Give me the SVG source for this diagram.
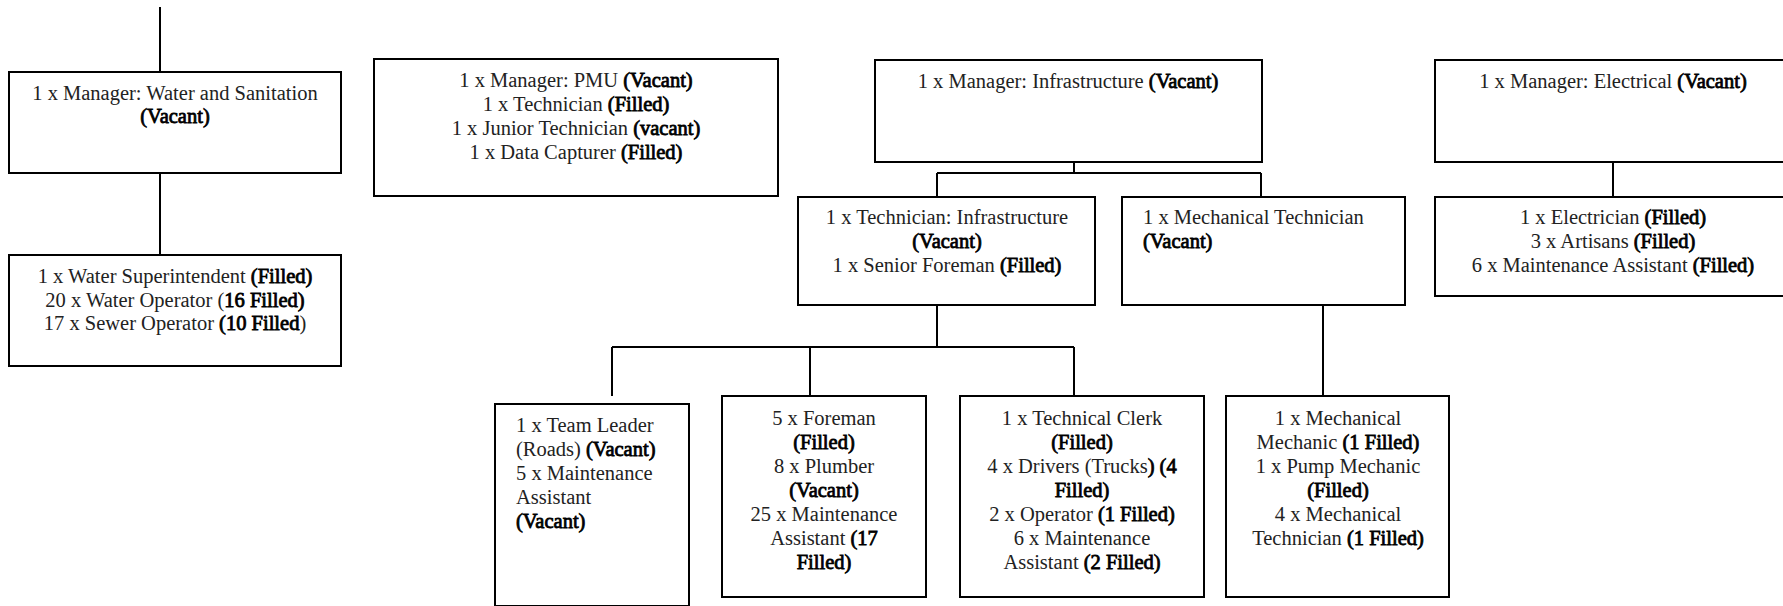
<svg xmlns="http://www.w3.org/2000/svg" width="1783" height="606" viewBox="0 0 1783 606">
  <style>
    .box { fill: #ffffff; stroke: #000000; stroke-width: 2; }
    .wire { fill: none; stroke: #000000; stroke-width: 2; }
    text { font-family: "Liberation Serif", "Times New Roman", serif; font-size: 20.5px; fill: #222222; }
    .c { text-anchor: middle; }
    /* heavier status labels */
    .b { fill: #000000; stroke: #000000; stroke-width: 0.8px; paint-order: stroke; }
  </style>
  <rect width="1783" height="606" fill="#ffffff"/>

  <!-- connectors -->
  <g id="connectors">
    <path class="wire" d="M160 7 V72"/>
    <path class="wire" d="M160 173 V255"/>
    <path class="wire" d="M1074 162 V173 M937 173 H1261 M937 173 V197 M1261 173 V197"/>
    <path class="wire" d="M1613 162 V197"/>
    <path class="wire" d="M937 305 V347 M612 347 H1074 M612 347 V396 M810 347 V396 M1074 347 V396"/>
    <path class="wire" d="M1323 305 V396"/>
  </g>

  <!-- Water and Sanitation -->
  <g id="ws-manager">
    <rect class="box" x="9" y="72" width="332" height="101"/>
    <text class="c" x="175" y="100">1 x Manager: Water and Sanitation</text>
    <text class="c b" x="175" y="123">(Vacant)</text>
  </g>
  <g id="ws-staff">
    <rect class="box" x="9" y="255" width="332" height="111"/>
    <text class="c" x="175" y="283">1 x Water Superintendent <tspan class="b">(Filled)</tspan></text>
    <text class="c" x="175" y="307">20 x Water Operator (<tspan class="b">16 Filled)</tspan></text>
    <text class="c" x="175" y="330">17 x Sewer Operator <tspan class="b">(10 Filled</tspan>)</text>
  </g>

  <!-- PMU -->
  <g id="pmu">
    <rect class="box" x="374" y="59" width="404" height="137"/>
    <text class="c" x="576" y="87">1 x Manager: PMU <tspan class="b">(Vacant)</tspan></text>
    <text class="c" x="576" y="111">1 x Technician <tspan class="b">(Filled)</tspan></text>
    <text class="c" x="576" y="135">1 x Junior Technician <tspan class="b">(vacant)</tspan></text>
    <text class="c" x="576" y="159">1 x Data Capturer <tspan class="b">(Filled)</tspan></text>
  </g>

  <!-- Infrastructure -->
  <g id="infra-manager">
    <rect class="box" x="875" y="60" width="387" height="102"/>
    <text class="c" x="1068" y="88">1 x Manager: Infrastructure <tspan class="b">(Vacant)</tspan></text>
  </g>
  <g id="tech-infra">
    <rect class="box" x="798" y="197" width="297" height="108"/>
    <text class="c" x="947" y="224">1 x Technician: Infrastructure</text>
    <text class="c b" x="947" y="248">(Vacant)</text>
    <text class="c" x="947" y="272">1 x Senior Foreman <tspan class="b">(Filled)</tspan></text>
  </g>
  <g id="mech-tech">
    <rect class="box" x="1122" y="197" width="283" height="108"/>
    <text x="1143" y="224">1 x Mechanical Technician</text>
    <text class="b" x="1143" y="248">(Vacant)</text>
  </g>

  <!-- Electrical -->
  <g id="elec-manager">
    <rect class="box" x="1435" y="60" width="360" height="102"/>
    <text class="c" x="1613" y="88">1 x Manager: Electrical <tspan class="b">(Vacant)</tspan></text>
  </g>
  <g id="elec-staff">
    <rect class="box" x="1435" y="197" width="360" height="99"/>
    <text class="c" x="1613" y="224">1 x Electrician <tspan class="b">(Filled)</tspan></text>
    <text class="c" x="1613" y="248">3 x Artisans <tspan class="b">(Filled)</tspan></text>
    <text class="c" x="1613" y="272">6 x Maintenance Assistant <tspan class="b">(Filled)</tspan></text>
  </g>

  <!-- Teams under the infrastructure technician -->
  <g id="team-leader">
    <rect class="box" x="495" y="404" width="194" height="202"/>
    <text x="516" y="432">1 x Team Leader</text>
    <text x="516" y="456">(Roads) <tspan class="b">(Vacant)</tspan></text>
    <text x="516" y="480">5 x Maintenance</text>
    <text x="516" y="504">Assistant</text>
    <text class="b" x="516" y="528">(Vacant)</text>
  </g>
  <g id="foreman">
    <rect class="box" x="722" y="396" width="204" height="201"/>
    <text class="c" x="824" y="425">5 x Foreman</text>
    <text class="c b" x="824" y="449">(Filled)</text>
    <text class="c" x="824" y="473">8 x Plumber</text>
    <text class="c b" x="824" y="497">(Vacant)</text>
    <text class="c" x="824" y="521">25 x Maintenance</text>
    <text class="c" x="824" y="545">Assistant <tspan class="b">(17</tspan></text>
    <text class="c b" x="824" y="569">Filled)</text>
  </g>
  <g id="technical-clerk">
    <rect class="box" x="960" y="396" width="244" height="201"/>
    <text class="c" x="1082" y="425">1 x Technical Clerk</text>
    <text class="c b" x="1082" y="449">(Filled)</text>
    <text class="c" x="1082" y="473">4 x Drivers (Trucks<tspan class="b">) (4</tspan></text>
    <text class="c b" x="1082" y="497">Filled)</text>
    <text class="c" x="1082" y="521">2 x Operator <tspan class="b">(1 Filled)</tspan></text>
    <text class="c" x="1082" y="545">6 x Maintenance</text>
    <text class="c" x="1082" y="569">Assistant <tspan class="b">(2 Filled)</tspan></text>
  </g>

  <!-- Mechanical staff -->
  <g id="mechanics">
    <rect class="box" x="1226" y="396" width="223" height="201"/>
    <text class="c" x="1338" y="425">1 x Mechanical</text>
    <text class="c" x="1338" y="449">Mechanic <tspan class="b">(1 Filled)</tspan></text>
    <text class="c" x="1338" y="473">1 x Pump Mechanic</text>
    <text class="c b" x="1338" y="497">(Filled)</text>
    <text class="c" x="1338" y="521">4 x Mechanical</text>
    <text class="c" x="1338" y="545">Technician <tspan class="b">(1 Filled)</tspan></text>
  </g>
</svg>
